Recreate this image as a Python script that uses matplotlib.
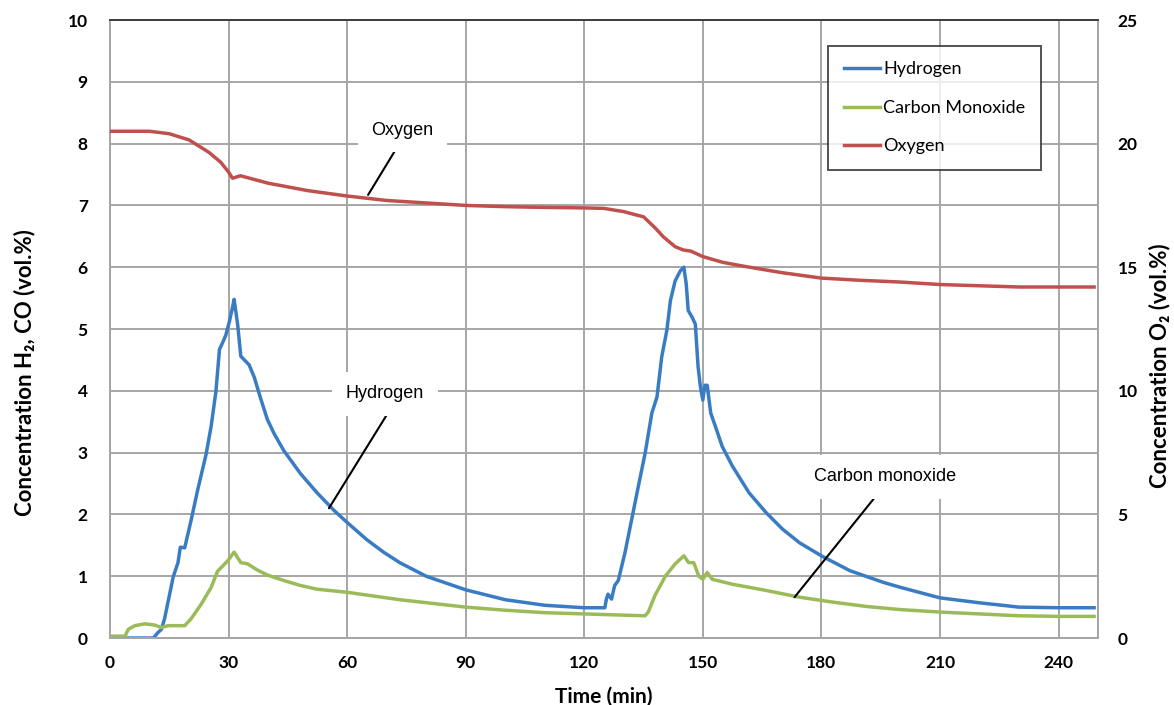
"""Hydrogen, CO and O2 concentrations over time (two-axis line chart)."""

import matplotlib
matplotlib.use("Agg")
import matplotlib.pyplot as plt
from matplotlib.font_manager import FontProperties
from matplotlib.lines import Line2D

# ---- data ----
h2_time = [4.5, 11, 12, 13, 13.8, 14.7, 16, 17.2, 17.8, 18.9, 20.5, 22.2, 24.3,
           25.6, 26.8, 27.7, 28.5, 29.3, 30.2, 31, 31.4, 32.3, 33.1, 34, 35.2,
           36.5, 38.1, 39.8, 41.5, 44, 48.2, 52.4, 56.6, 60, 65, 69.2, 73.3, 80,
           90, 100, 110, 120, 125.2, 125.6, 126, 126.9, 127.7, 128.6, 130.3, 132,
           133.7, 135.4, 137.1, 138.4, 139.6, 140.9, 141.8, 143, 144.3, 145.2,
           145.8, 146.3, 147.3, 148.1, 148.8, 149.4, 150, 150.5, 151.1, 152,
           153.2, 154.9, 157.5, 161.7, 166, 170.2, 174.5, 180, 187.2, 195.7, 200,
           210, 220, 230, 240, 249]
h2_conc = [0, 0, 0.08, 0.14, 0.31, 0.59, 0.99, 1.22, 1.47, 1.46, 1.9, 2.4, 2.97,
           3.43, 3.99, 4.67, 4.78, 4.9, 5.12, 5.35, 5.48, 5.07, 4.56, 4.5, 4.42,
           4.22, 3.88, 3.54, 3.31, 3.03, 2.66, 2.35, 2.07, 1.87, 1.59, 1.39, 1.22,
           1.0, 0.78, 0.62, 0.53, 0.49, 0.49, 0.63, 0.71, 0.63, 0.85, 0.93, 1.38,
           1.92, 2.46, 2.99, 3.64, 3.9, 4.55, 4.98, 5.46, 5.78, 5.94, 6.0, 5.73,
           5.3, 5.19, 5.08, 4.39, 4.06, 3.85, 4.09, 4.09, 3.64, 3.42, 3.1, 2.78,
           2.35, 2.03, 1.76, 1.54, 1.33, 1.09, 0.9, 0.82, 0.65, 0.57, 0.5, 0.49,
           0.49]

co_time = [0, 3.8, 4.6, 6.3, 8.8, 11.3, 13, 14.7, 18.9, 20.5, 23, 25.6, 27.2,
           29.8, 31.4, 33.1, 34.8, 37.3, 39.8, 44, 48.2, 52.4, 60, 73.3, 90, 100,
           110, 120, 130, 135.4, 136.2, 137.9, 140.5, 143, 145.2, 146.4, 147.7,
           149, 150, 151.1, 152.4, 157.5, 166, 174.5, 183, 191.5, 200, 210, 220,
           230, 240, 249]
co_conc = [0.03, 0.03, 0.14, 0.2, 0.23, 0.21, 0.17, 0.2, 0.2, 0.31, 0.54, 0.82,
           1.08, 1.25, 1.39, 1.22, 1.2, 1.1, 1.02, 0.93, 0.85, 0.79, 0.74, 0.62,
           0.5, 0.45, 0.41, 0.39, 0.37, 0.36, 0.42, 0.69, 1.0, 1.2, 1.33, 1.22,
           1.22, 1.0, 0.95, 1.06, 0.95, 0.87, 0.77, 0.66, 0.58, 0.51, 0.46, 0.42,
           0.39, 0.36, 0.35, 0.35]

o2_time = [0, 10, 15, 20, 25, 28, 30, 31, 33, 40, 50, 60, 70, 80, 90, 100, 110,
           120, 125, 128, 130, 133, 135, 138, 140, 143, 145, 147, 150, 155, 160,
           170, 180, 190, 200, 210, 220, 230, 240, 249]
o2_conc = [20.5, 20.5, 20.4, 20.15, 19.65, 19.25, 18.85, 18.6, 18.7, 18.4, 18.1,
           17.88, 17.7, 17.6, 17.5, 17.45, 17.42, 17.4, 17.38, 17.3, 17.25,
           17.12, 17.04, 16.58, 16.23, 15.83, 15.7, 15.65, 15.43, 15.2, 15.05,
           14.78, 14.56, 14.47, 14.4, 14.3, 14.25, 14.2, 14.2, 14.2]

x_ticks = [0, 30, 60, 90, 120, 150, 180, 210, 240]
left_ticks = list(range(0, 11))
right_ticks = [0, 5, 10, 15, 20, 25]

BLUE = "#3a7cc4"
GREEN = "#9bbb59"
RED = "#c0504d"
GRID = "#a6a6a6"
LW = 2.5

tick_prop = FontProperties(family="Lato", weight="bold", size=12.5)
title_fam = ["Lato", "DejaVu Sans"]
note_kw = dict(family="Liberation Sans", fontsize=13, ha="center", va="center")

fig = plt.figure(figsize=(11.74, 7.05), dpi=100)
ax = fig.add_axes([0.0937, 0.095, 0.8416, 0.8766])
ax2 = ax.twinx()

ax.plot(h2_time, h2_conc, color=BLUE, lw=LW, zorder=3)
ax.plot(co_time, co_conc, color=GREEN, lw=LW, zorder=3)
ax2.plot(o2_time, o2_conc, color=RED, lw=LW, zorder=3)

ax.set_xlim(0, 250)
ax.set_ylim(0, 10)
ax2.set_ylim(0, 25)
ax.set_xticks(x_ticks)
ax.set_yticks(left_ticks)
ax2.set_yticks(right_ticks)

ax.grid(True, color=GRID, lw=1.4, zorder=0)
ax.set_axisbelow(True)
for a in (ax, ax2):
    for side in ("left", "right", "bottom"):
        a.spines[side].set_color(GRID)
        a.spines[side].set_linewidth(1.4)
    a.spines["top"].set_color("#404040")
    a.spines["top"].set_linewidth(1.4)
    a.tick_params(length=0)
    for lab in a.get_xticklabels() + a.get_yticklabels():
        lab.set_fontproperties(tick_prop)
ax.tick_params(axis="y", pad=16)
ax.tick_params(axis="x", pad=12)
ax2.tick_params(axis="y", pad=14)

ax.set_xlabel("Time (min)", family=title_fam, weight="bold", fontsize=15)
ax.xaxis.set_label_coords(0.5, -0.078)
ax.set_ylabel("Concentration H\u2082, CO (vol.%)", family=title_fam,
              weight="bold", fontsize=16)
ax.yaxis.set_label_coords(-0.076, 0.43)
ax2.set_ylabel("Concentration O\u2082 (vol.%)", family=title_fam,
               weight="bold", fontsize=16)
ax2.yaxis.set_label_coords(1.051, 0.44)

# callout labels with white boxes that hide the grid
box = dict(boxstyle="square,pad=0.75", fc="white", ec="none")
line = dict(arrowstyle="-", color="black", lw=1.5, shrinkA=0, shrinkB=0)
ax.annotate("Oxygen", xy=(65.3, 7.17), xytext=(74, 8.22), bbox=box,
            arrowprops=dict(line, relpos=(0.5, 0.0)), zorder=4, **note_kw)
ax.annotate("Hydrogen", xy=(55.4, 2.1), xytext=(69.6, 3.95), bbox=box,
            arrowprops=dict(line, relpos=(0.62, 0.0)), zorder=4, **note_kw)
ax.annotate("Carbon monoxide", xy=(173.2, 0.66), xytext=(196, 2.61), bbox=box,
            arrowprops=dict(line, relpos=(0.5, 0.0)), zorder=4, **note_kw)

handles = [Line2D([], [], color=BLUE, lw=LW),
           Line2D([], [], color=GREEN, lw=LW),
           Line2D([], [], color=RED, lw=LW)]
leg = ax2.legend(handles, ["Hydrogen", "Carbon Monoxide", "Oxygen"],
                 loc="upper left", bbox_to_anchor=(0.727, 0.958),
                 prop=dict(family="Lato", size=13), frameon=True, fancybox=False,
                 handlelength=2.0, handletextpad=0.2, labelspacing=1.25,
                 borderpad=0.85, borderaxespad=0)
leg.get_frame().set_edgecolor("#262626")
leg.get_frame().set_linewidth(1.4)
leg.set_zorder(5)

fig.savefig("out.png", dpi=100)
